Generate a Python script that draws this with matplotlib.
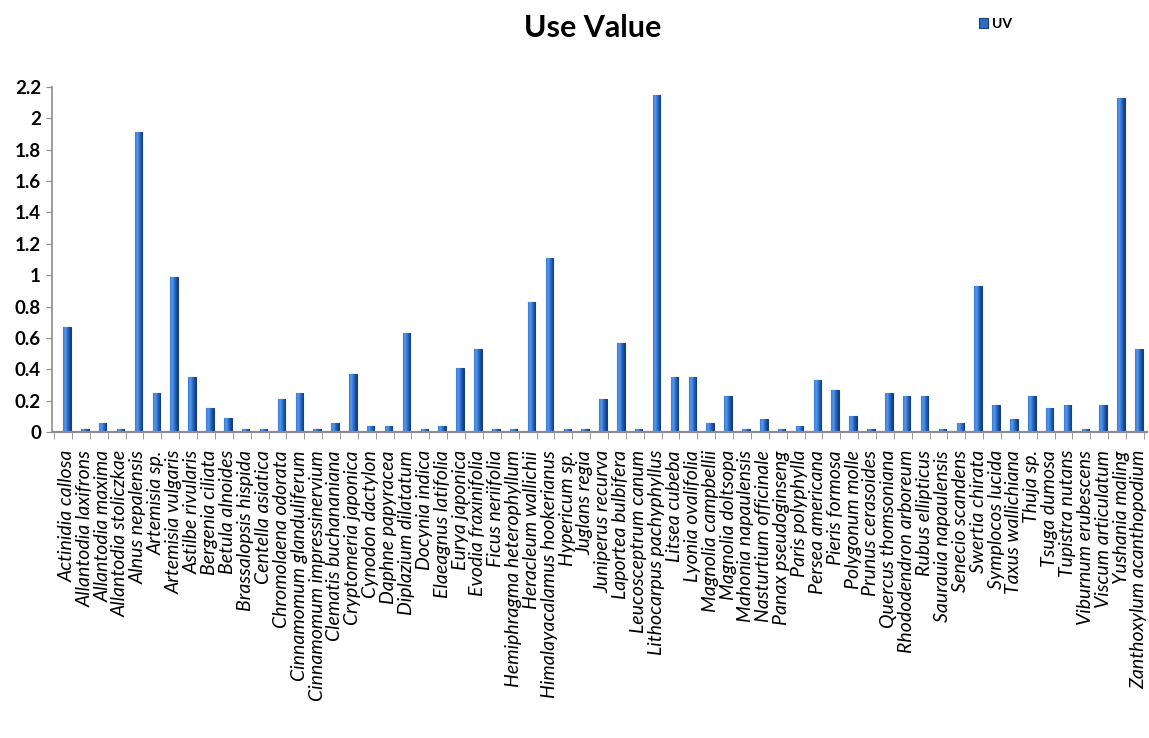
import matplotlib.pyplot as plt
import numpy as np
from matplotlib.colors import LinearSegmentedColormap

species = [
    'Actinidia callosa', 'Allantodia laxifrons', 'Allantodia maxima',
    'Allantodia stoliczkae', 'Alnus nepalensis', 'Artemisia sp.',
    'Artemisia vulgaris', 'Astilbe rivularis', 'Bergenia ciliata',
    'Betula alnoides', 'Brassalopsis hispida', 'Centella asiatica',
    'Chromolaena odorata', 'Cinnamomum glanduliferum',
    'Cinnamomum impressinervium', 'Clematis buchananiana',
    'Cryptomeria japonica', 'Cynodon dactylon', 'Daphne papyracea',
    'Diplazium dilatatum', 'Docynia indica', 'Elaeagnus latifolia',
    'Eurya japonica', 'Evodia fraxinifolia', 'Ficus neriifolia',
    'Hemiphragma heterophyllum', 'Heracleum wallichii',
    'Himalayacalamus hookerianus', 'Hypericum sp.', 'Juglans regia',
    'Juniperus recurva', 'Laportea bulbifera', 'Leucosceptrum canum',
    'Lithocarpus pachyphyllus', 'Litsea cubeba', 'Lyonia ovalifolia',
    'Magnolia campbellii', 'Magnolia doltsopa', 'Mahonia napaulensis',
    'Nasturtium officinale', 'Panax pseudoginseng', 'Paris polyphylla',
    'Persea americana', 'Pieris formosa', 'Polygonum molle',
    'Prunus cerasoides', 'Quercus thomsoniana', 'Rhododendron arboreum',
    'Rubus ellipticus', 'Saurauia napaulensis', 'Senecio scandens',
    'Swertia chirata', 'Symplocos lucida', 'Taxus wallichiana',
    'Thuja sp.', 'Tsuga dumosa', 'Tupistra nutans', 'Viburnum erubescens',
    'Viscum articulatum', 'Yushania maling', 'Zanthoxylum acanthopodium',
]

uv = [
    0.67, 0.02, 0.06, 0.02, 1.91, 0.25, 0.99, 0.35, 0.15, 0.09,
    0.02, 0.02, 0.21, 0.25, 0.02, 0.06, 0.37, 0.04, 0.04, 0.63,
    0.02, 0.04, 0.41, 0.53, 0.02, 0.02, 0.83, 1.11, 0.02, 0.02,
    0.21, 0.57, 0.02, 2.15, 0.35, 0.35, 0.06, 0.23, 0.02, 0.08,
    0.02, 0.04, 0.33, 0.27, 0.10, 0.02, 0.25, 0.23, 0.23, 0.02,
    0.06, 0.93, 0.17, 0.08, 0.23, 0.15, 0.17, 0.02, 0.17, 2.13,
    0.53,
]

yticks = np.arange(0, 2.21, 0.2)

plt.rcParams['font.family'] = ['Lato', 'DejaVu Sans']

fig = plt.figure(figsize=(11.49, 7.38), dpi=100)
ax = fig.add_axes([52 / 1149, 1 - 432 / 738, 1095 / 1149, 345 / 738])

x = np.arange(len(species))
bars = ax.bar(x, uv, width=0.42, color='#2a6cc8', edgecolor='#1b3f73',
              linewidth=0.8, zorder=2, label='UV')

# cylinder-like shading on each bar
shade = LinearSegmentedColormap.from_list(
    'shade', [(0, '#3a7fd8'), (0.3, '#5498ec'), (0.65, '#2563c2'), (1, '#143a74')])
grad = np.linspace(0, 1, 64).reshape(1, -1)
for b in bars:
    im = ax.imshow(grad, cmap=shade, aspect='auto', zorder=2.5,
                   extent=(b.get_x(), b.get_x() + b.get_width(), 0, b.get_height()))
    im.set_clip_path(b)

ax.set_xlim(-0.84, len(species) - 1 + 0.45)
ax.set_ylim(0, 2.2)

ax.set_yticks(yticks, ['{:g}'.format(round(v, 1)) for v in yticks],
              fontsize=13.5, fontweight='bold')
ax.tick_params(axis='y', length=4, color='#8c8c8c', pad=4)

ax.set_xticks(x, species, rotation=90, style='italic', fontsize=14)
ax.set_xticks(np.arange(len(species) + 1) - 0.72, minor=True)
ax.tick_params(axis='x', which='major', length=0, pad=13)
ax.tick_params(axis='x', which='minor', length=5, color='#8c8c8c')

for side in ['top', 'right']:
    ax.spines[side].set_visible(False)
ax.spines['left'].set_color('#8c8c8c')
ax.spines['left'].set_linewidth(1.2)
ax.spines['bottom'].set_color('#8c8c8c')
ax.spines['bottom'].set_linewidth(1.6)

fig.text(0.516, 0.962, 'Use Value', ha='center', va='center',
         fontsize=22, fontweight='bold')
fig.legend(handles=[bars], labels=['UV'], loc='upper left',
           bbox_to_anchor=(966 / 1149, 1 - 5 / 738), frameon=False,
           prop={'size': 10, 'weight': 'bold'}, handlelength=0.7,
           handleheight=0.7, handletextpad=0.3)

fig.savefig('out.png', dpi=100)
